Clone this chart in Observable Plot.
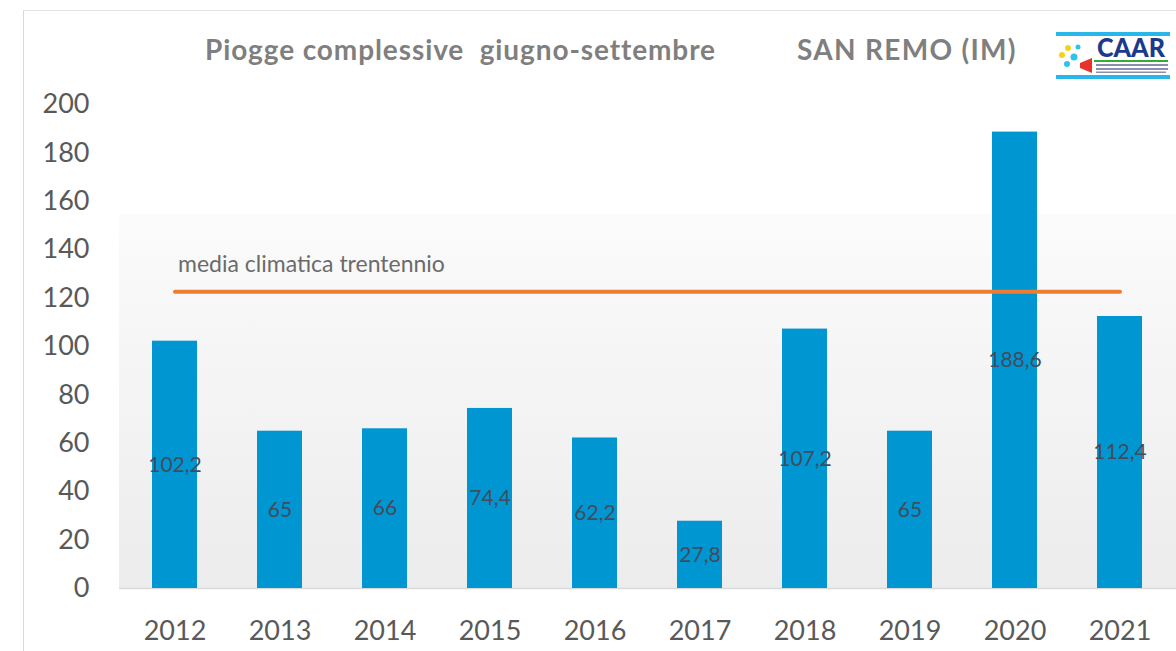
<!DOCTYPE html>
<html>
<head>
<meta charset="utf-8">
<script src="https://cdn.jsdelivr.net/npm/d3@7"></script>
<script src="https://cdn.jsdelivr.net/npm/@observablehq/plot@0.6"></script>
<style>
  html, body { margin: 0; padding: 0; background: #fff; }
  #wrap { position: relative; width: 1176px; height: 651px; overflow: hidden; font-family: Lato, "Open Sans", sans-serif; }
  #frame { position: absolute; left: 23px; top: 10px; right: -2px; bottom: -2px; border-left: 1.5px solid #d9d9d9; border-top: 1.5px solid #e3e3e3; pointer-events: none; }
  #title { position: absolute; left: 205px; top: 31px; font-weight: 700; font-size: 28px; letter-spacing: 0.9px; color: #7f7f7f; white-space: pre; line-height: 36px; }
  #place { position: absolute; left: 797px; top: 31px; font-weight: 700; font-size: 28px; letter-spacing: 1.3px; color: #7f7f7f; white-space: pre; line-height: 36px; }
  #logo { position: absolute; left: 1052px; top: 29px; }
  #chart { position: absolute; left: 0; top: 0; }
</style>
</head>
<body>
<div id="wrap">
  <div id="chart"></div>
  <div id="frame"></div>
  <div id="title">Piogge complessive  giugno-settembre</div>
  <div id="place">SAN REMO (IM)</div>
  <svg id="logo" width="122" height="56" viewBox="0 0 122 56">
    <rect x="4" y="3" width="114" height="4" fill="#29b6e8"/>
    <rect x="4" y="46" width="114" height="4" fill="#29b6e8"/>
    <circle cx="16" cy="19" r="3" fill="#f2d31b"/>
    <circle cx="10" cy="26" r="3" fill="#f2d31b"/>
    <circle cx="22" cy="28" r="3.5" fill="#2ec4e6"/>
    <circle cx="15" cy="35" r="3" fill="#2ec4e6"/>
    <circle cx="26" cy="18" r="2.5" fill="#2ec4e6"/>
    <path d="M28 34 L40 29 L40 44 L28 39 Z" fill="#e8332a"/>
    <text x="45" y="28" font-family="Lato, sans-serif" font-weight="900" font-size="27" textLength="68" lengthAdjust="spacingAndGlyphs" fill="#1c3a8c">CAAR</text>
    <rect x="42" y="31" width="74" height="2" fill="#3aa935"/>
    <rect x="44" y="35" width="72" height="2" fill="#8a8fb0"/>
    <rect x="44" y="39" width="72" height="2" fill="#8a8fb0"/>
    <rect x="44" y="42.5" width="70" height="1.5" fill="#8a8fb0"/>
  </svg>
</div>
<script>
const years = ["2012","2013","2014","2015","2016","2017","2018","2019","2020","2021"];
const rainfall = [102.2, 65, 66, 74.4, 62.2, 27.8, 107.2, 65, 188.6, 112.4];
const climateMean = 122.6;
const meanLabel = "media climatica trentennio";
const yTicks = [0, 20, 40, 60, 80, 100, 120, 140, 160, 180, 200];
const backgroundTop = 154.5;

const data = years.map((year, i) => ({year, value: rainfall[i]}));
const meanLine = [{year: years[0], value: climateMean}, {year: years[years.length - 1], value: climateMean}];
const fmt = v => String(v).replace(".", ",");

const chart = Plot.plot({
  width: 1176,
  height: 651,
  marginLeft: 119,
  marginRight: 0,
  marginTop: 104,
  marginBottom: 63,
  style: {background: "transparent", fontFamily: "Lato, 'Open Sans', sans-serif", overflow: "visible"},
  x: {domain: years, paddingInner: 0.57, paddingOuter: 0.285, label: null},
  y: {domain: [0, 200], label: null},
  marks: [
    Plot.rect([{y1: 0, y2: backgroundTop}], {y1: "y1", y2: "y2", fill: "url(#bggrad)"}),
    Plot.ruleY([0], {stroke: "#d9d9d9", strokeWidth: 1.5}),
    Plot.barY(data, {x: "year", y: "value", fill: "#0096d2"}),
    Plot.line(meanLine, {x: "year", y: "value", stroke: "#ed7d31", strokeWidth: 4}),
    Plot.text([meanLine[0]], {x: "year", y: "value", text: () => meanLabel, textAnchor: "start", dx: 3, dy: -27, fontSize: 23, fill: "#6b6b6b", style: "letter-spacing: 0.4px"}),
    Plot.text(data, {x: "year", y: d => d.value / 2, text: d => fmt(d.value), fontSize: 21, fill: "#3f4d5e"}),
    Plot.axisY(yTicks, {tickSize: 0, tickPadding: 30, fontSize: 27, fill: "#595959"}),
    Plot.axisX({tickSize: 0, tickPadding: 32, fontSize: 27, fill: "#595959"})
  ]
});

const ns = "http://www.w3.org/2000/svg";
const defs = document.createElementNS(ns, "defs");
const grad = document.createElementNS(ns, "linearGradient");
grad.setAttribute("id", "bggrad");
grad.setAttribute("x1", "0"); grad.setAttribute("y1", "0");
grad.setAttribute("x2", "0"); grad.setAttribute("y2", "1");
[["0", "#fbfbfb"], ["1", "#ececec"]].forEach(([o, c]) => {
  const s = document.createElementNS(ns, "stop");
  s.setAttribute("offset", o); s.setAttribute("stop-color", c);
  grad.appendChild(s);
});
defs.appendChild(grad);
chart.insertBefore(defs, chart.firstChild);
document.getElementById("chart").appendChild(chart);
</script>
</body>
</html>
